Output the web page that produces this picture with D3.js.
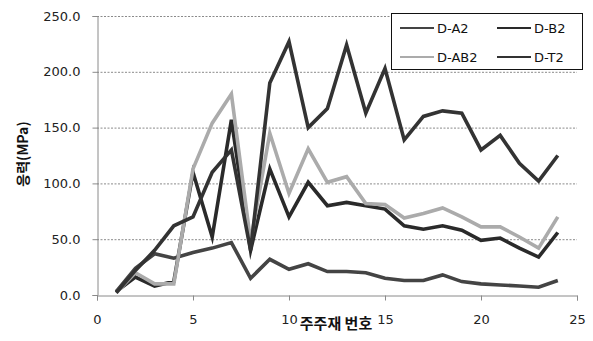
<!DOCTYPE html>
<html>
<head>
<meta charset="utf-8">
<script src="https://cdn.jsdelivr.net/npm/d3@7"></script>
<style>
  html, body { margin: 0; padding: 0; background: #fff; }
  svg { display: block; }
</style>
</head>
<body>
<svg id="chart" width="593" height="341"></svg>
<script>
// member numbers along the x axis
const memberNo = d3.range(1, 25);

// stress per member (MPa)
const dA2  = [3, 24, 37, 33, 38, 42, 47, 15, 32, 23, 28, 21, 21, 20, 15, 13, 13, 18, 12, 10, 9, 8, 7, 13];
const dB2  = [3, 16, 8, 12, 110, 52, 157, 40, 113, 70, 101, 80, 83, 80, 77, 62, 59, 62, 58, 49, 51, 42, 34, 56];
const dAB2 = [2, 20, 10, 10, 113, 154, 180, 48, 145, 91, 131, 101, 106, 82, 81, 69, 73, 78, 70, 61, 61, 52, 42, 70];
const dT2  = [2, 22, 40, 62, 70, 110, 130, 40, 190, 227, 150, 167, 224, 163, 203, 139, 160, 165, 163, 130, 143, 118, 102, 125];

const seriesNames = ["D-A2", "D-B2", "D-AB2", "D-T2"];
const seriesValues = [dA2, dB2, dAB2, dT2];
const seriesColors = ["#444444", "#2a2a2a", "#ababab", "#333333"];

const xTicks = [0, 5, 10, 15, 20, 25];
const yTicks = [0, 50, 100, 150, 200, 250];

(function draw() {
  const svg = d3.select("#chart");
  const plotL = 97, plotR = 577, plotT = 16, plotB = 295;

  const x = d3.scaleLinear().domain([0, 25]).range([plotL, plotR]);
  const y = d3.scaleLinear().domain([0, 250]).range([plotB, plotT]);

  const numFont = "'DejaVu Sans', Verdana, sans-serif";
  const krFont = "'Noto Sans CJK KR', sans-serif";

  // horizontal gridlines
  svg.append("g")
    .selectAll("line")
    .data(yTicks.filter(d => d > 0))
    .join("line")
    .attr("x1", plotL).attr("x2", plotR)
    .attr("y1", d => y(d) + 0.5).attr("y2", d => y(d) + 0.5)
    .attr("stroke", "#8a8a8a")
    .attr("stroke-width", 1)
    .attr("stroke-dasharray", "2,1.5");

  // y axis
  const yAxis = svg.append("g")
    .attr("transform", `translate(${plotL + 0.5},0)`)
    .call(d3.axisLeft(y).tickValues(yTicks).tickSize(5).tickPadding(12)
      .tickFormat(d3.format(".1f")));
  yAxis.select(".domain").attr("stroke", "#8a8a8a");
  yAxis.selectAll(".tick line").attr("stroke", "#8a8a8a");
  yAxis.selectAll("text")
    .attr("font-family", numFont).attr("font-size", 13).attr("fill", "#222");

  // x axis
  const xAxis = svg.append("g")
    .attr("transform", `translate(0,${plotB + 0.5})`)
    .call(d3.axisBottom(x).tickValues(xTicks).tickSize(5).tickPadding(14)
      .tickFormat(d3.format("d")));
  xAxis.select(".domain").attr("stroke", "#8a8a8a");
  xAxis.selectAll(".tick line").attr("stroke", "#8a8a8a");
  xAxis.selectAll("text")
    .attr("font-family", numFont).attr("font-size", 13).attr("fill", "#222");

  // series lines
  const line = d3.line()
    .x((d, i) => x(memberNo[i]))
    .y(d => y(d));

  svg.append("g")
    .selectAll("path")
    .data(seriesValues)
    .join("path")
    .attr("d", d => line(d))
    .attr("fill", "none")
    .attr("stroke", (d, i) => seriesColors[i])
    .attr("stroke-width", 3.6)
    .attr("stroke-linejoin", "miter")
    .attr("stroke-miterlimit", 6);

  // axis titles
  svg.append("text")
    .attr("x", 336).attr("y", 329)
    .attr("text-anchor", "middle")
    .attr("font-family", krFont).attr("font-weight", "bold")
    .attr("font-size", 15).attr("fill", "#111")
    .text("주주재 번호");

  svg.append("text")
    .attr("transform", "translate(28,154) rotate(-90)")
    .attr("text-anchor", "middle")
    .attr("font-family", krFont).attr("font-weight", "bold")
    .attr("font-size", 14).attr("fill", "#111")
    .text("응력(MPa)");

  // legend
  const legend = svg.append("g");
  legend.append("rect")
    .attr("x", 391.5).attr("y", 13.5).attr("width", 191).attr("height", 56)
    .attr("fill", "#fff").attr("stroke", "#111").attr("stroke-width", 1);

  const legendPos = [[400, 28], [497, 28], [400, 57], [497, 57]];
  seriesNames.forEach((name, i) => {
    const [lx, ly] = legendPos[i];
    legend.append("line")
      .attr("x1", lx).attr("x2", lx + 34)
      .attr("y1", ly).attr("y2", ly)
      .attr("stroke", seriesColors[i]).attr("stroke-width", 2);
    legend.append("text")
      .attr("x", lx + 37).attr("y", ly + 4.5)
      .attr("font-family", numFont).attr("font-size", 13).attr("fill", "#111")
      .text(name);
  });
})();
</script>
</body>
</html>
